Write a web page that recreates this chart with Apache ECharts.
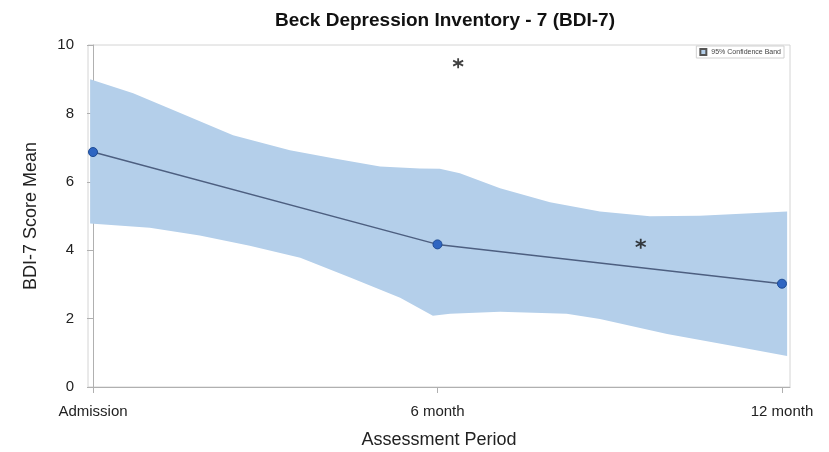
<!DOCTYPE html>
<html>
<head>
<meta charset="utf-8">
<script src="https://cdn.jsdelivr.net/npm/echarts@6/dist/echarts.min.js"></script>
<style>html,body{margin:0;padding:0;background:#fff}#c{width:829px;height:452px}</style>
</head>
<body>
<div id="c"></div>
<script>
// Assessment points (months) and tick labels
const tickMonths = [0, 6, 12];
const tickLabels = ['Admission', '6 month', '12 month'];
// Mean BDI-7 score at each assessment
const meanMonths = [0, 6, 12];
const meanValues = [6.87, 4.17, 3.02];
// 95% confidence band
const bandMonths = [-0.05, 0.70, 1.52, 2.44, 3.43, 4.18, 5.00, 5.69, 6.04, 6.39, 7.09, 7.96, 8.83, 9.70, 10.57, 12.09];
const bandUpper  = [9.00, 8.59, 8.01, 7.36, 6.92, 6.69, 6.45, 6.39, 6.38, 6.25, 5.81, 5.40, 5.13, 4.99, 5.01, 5.13];
const lowerMonths = [-0.05, 0.99, 1.86, 2.73, 3.61, 4.48, 5.35, 5.92, 6.22, 7.09, 8.25, 8.83, 10.00, 11.15, 12.09];
const bandLower   = [4.78, 4.66, 4.43, 4.13, 3.78, 3.20, 2.61, 2.08, 2.14, 2.20, 2.14, 1.99, 1.55, 1.20, 0.91];
// Outlier markers (asterisks)
const outlierMonths = [6.36, 9.54];
const outlierValues = [9.47, 4.19];

const chart = echarts.init(document.getElementById('c'), null, {renderer: 'canvas'});
const FONT = 'Liberation Sans, Arial, sans-serif';
const bandColor = '#b4cfea';
const star = 'path://M0,-1L0,1M-0.87,-0.5L0.87,0.5M-0.87,0.5L0.87,-0.5';

const upperPts = bandMonths.map((m, i) => [m, bandUpper[i]]);
const lowerPts = lowerMonths.map((m, i) => [m, bandLower[i]]);

chart.setOption({
  backgroundColor: '#fff',
  animation: false,
  title: {
    text: 'Beck Depression Inventory - 7 (BDI-7)',
    left: 440, top: 6, textAlign: 'center',
    textStyle: {fontFamily: FONT, fontSize: 19, fontWeight: 'bold', color: '#111'}
  },
  legend: {
    right: 45, top: 46,
    data: [{name: '95% Confidence Band', icon: 'rect'}],
    itemWidth: 6, itemHeight: 6, itemGap: 3,
    padding: [2, 3],
    borderColor: '#d0d0d0', borderWidth: 1,
    textStyle: {fontFamily: FONT, fontSize: 7, color: '#444'}
  },
  grid: {left: 88, right: 39, top: 45, bottom: 65, show: true, borderColor: '#d4d4d4', borderWidth: 1,
         containLabel: false, outerBoundsMode: 'none'},
  xAxis: {
    type: 'value', min: -0.087, max: 12.14,
    name: 'Assessment Period', nameLocation: 'middle', nameGap: 44,
    nameTextStyle: {fontFamily: FONT, fontSize: 18, color: '#222'},
    axisLine: {show: true, lineStyle: {color: '#b0b0b0'}},
    axisTick: {show: true, customValues: tickMonths, length: 6, lineStyle: {color: '#b0b0b0'}},
    axisLabel: {
      customValues: tickMonths, margin: 17,
      fontFamily: FONT, fontSize: 15, color: '#222',
      formatter: v => tickLabels[tickMonths.indexOf(Math.round(v))] || ''
    },
    splitLine: {show: false}
  },
  yAxis: {
    type: 'value', min: 0, max: 10, interval: 2,
    name: 'BDI-7 Score Mean', nameLocation: 'middle', nameGap: 48, nameRotate: 90,
    nameTextStyle: {fontFamily: FONT, fontSize: 18, color: '#222'},
    axisLine: {show: true, lineStyle: {color: '#b0b0b0'}},
    axisTick: {show: true, length: 6, lineStyle: {color: '#b0b0b0'}},
    axisLabel: {fontFamily: FONT, fontSize: 15, color: '#222', margin: 14},
    splitLine: {show: false}
  },
  series: [
    {
      name: '95% Confidence Band',
      type: 'custom',
      color: bandColor,
      itemStyle: {color: bandColor, borderColor: '#555', borderWidth: 1},
      data: [[0, 0]],
      renderItem: function (params, api) {
        const pts = upperPts.map(p => api.coord(p));
        for (let i = lowerPts.length - 1; i >= 0; i--) pts.push(api.coord(lowerPts[i]));
        return {type: 'polygon', shape: {points: pts}, style: {fill: bandColor}, silent: true};
      },
      z: 1
    },
    {
      name: 'Mean',
      type: 'line',
      data: meanMonths.map((m, i) => [m, meanValues[i]]),
      symbol: 'circle', symbolSize: 9,
      lineStyle: {color: '#4d5f80', width: 1.5},
      itemStyle: {color: '#2f66c2', borderColor: '#1e4b94', borderWidth: 1},
      z: 3
    },
    {
      name: 'Outlier',
      type: 'scatter',
      data: outlierMonths.map((m, i) => [m, outlierValues[i]]),
      symbol: star, symbolSize: 10,
      itemStyle: {color: 'none', borderColor: '#111', borderWidth: 1.8},
      z: 4
    }
  ]
});
</script>
</body>
</html>
